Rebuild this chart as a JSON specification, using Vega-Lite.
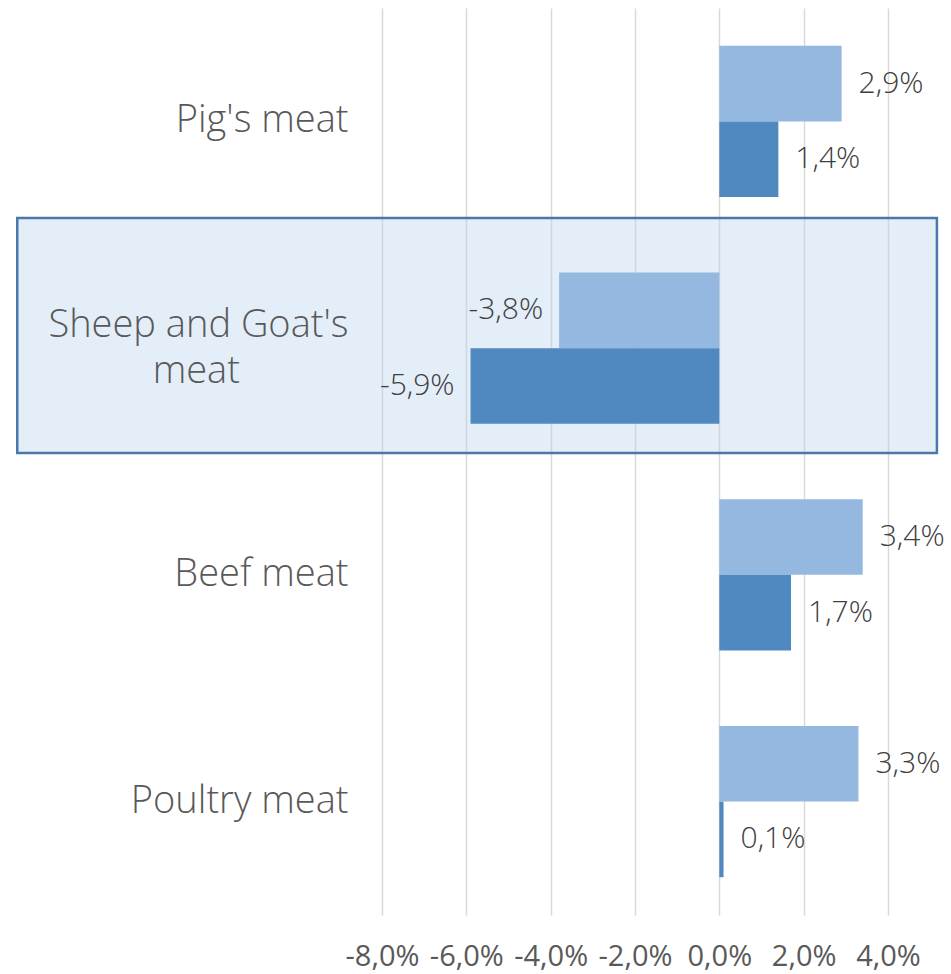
{
  "$schema": "https://vega.github.io/schema/vega-lite/v6.json",
  "width": 506,
  "height": 907,
  "autosize": {"type": "none"},
  "padding": {"left": 382, "top": 8, "right": 63, "bottom": 59},
  "background": "white",
  "config": {
    "view": {"stroke": null},
    "font": "Open Sans",
    "text": {"font": "Open Sans"}
  },
  "datasets": {
    "bars": [
      {"category": "Pig's meat", "series": "Series 1", "value": 2.9, "label": "2,9%"},
      {"category": "Pig's meat", "series": "Series 2", "value": 1.4, "label": "1,4%"},
      {"category": "Sheep and Goat's meat", "series": "Series 1", "value": -3.8, "label": "-3,8%"},
      {"category": "Sheep and Goat's meat", "series": "Series 2", "value": -5.9, "label": "-5,9%"},
      {"category": "Beef meat", "series": "Series 1", "value": 3.4, "label": "3,4%"},
      {"category": "Beef meat", "series": "Series 2", "value": 1.7, "label": "1,7%"},
      {"category": "Poultry meat", "series": "Series 1", "value": 3.3, "label": "3,3%"},
      {"category": "Poultry meat", "series": "Series 2", "value": 0.1, "label": "0,1%"}
    ],
    "box": [
      {"x1": -16.65, "x2": 5.16, "y1": 0.926, "y2": 1.963}
    ]
  },
  "layer": [
    {
      "data": {"name": "box"},
      "mark": {"type": "rect", "fill": "#bcd5ee", "fillOpacity": 0.4, "stroke": "#4a78ab", "strokeWidth": 2.5},
      "encoding": {
        "x": {
          "field": "x1",
          "type": "quantitative",
          "scale": {"domain": [-8, 4], "nice": false, "zero": false},
          "axis": {
            "title": null,
            "values": [-8, -6, -4, -2, 0, 2, 4],
            "labelExpr": "replace(replace(format(datum.value / 100, '.1%'), '.', ','), '\u2212', '-')",
            "domain": false,
            "ticks": false,
            "grid": true,
            "gridColor": "#d9d9d9",
            "gridWidth": 1.5,
            "labelFontSize": 29,
            "labelColor": "#595959",
            "labelPadding": 27,
            "labelOverlap": false,
            "labelBound": false,
            "labelFlush": false
          }
        },
        "x2": {"field": "x2"},
        "y": {"field": "y1", "type": "quantitative", "scale": {"domain": [0, 4], "reverse": true, "nice": false, "zero": false}, "axis": null},
        "y2": {"field": "y2"}
      }
    },
    {
      "data": {"name": "bars"},
      "encoding": {
        "y": {
          "field": "category",
          "type": "nominal",
          "sort": ["Pig's meat", "Sheep and Goat's meat", "Beef meat", "Poultry meat"],
          "scale": {"paddingInner": 0.333, "paddingOuter": 0.1667},
          "axis": {
            "title": null,
            "domain": false,
            "ticks": false,
            "zindex": 1,
            "labelFontSize": 38,
            "labelFontWeight": 300,
            "labelColor": "#595959",
            "labelPadding": 34,
            "labelLimit": 500,
            "labelLineHeight": 46,
            "labelOffset": {"condition": {"test": "datum.label == \"Sheep and Goat's meat\"", "value": -22}, "value": 0},
            "labelExpr": "datum.label == \"Sheep and Goat's meat\" ? [\"Sheep and Goat's\", \"meat\u00a0\u00a0\u00a0\u00a0\u00a0\u00a0\u00a0\u00a0\u00a0\u00a0\u00a0\u200b\"] : datum.label"
          }
        },
        "yOffset": {"field": "series", "type": "nominal", "sort": ["Series 1", "Series 2"], "scale": {"paddingInner": 0, "paddingOuter": 0}}
      },
      "layer": [
        {
          "mark": {"type": "bar"},
          "encoding": {
            "x": {
              "field": "value",
              "type": "quantitative",
              "scale": {"domain": [-8, 4], "nice": false, "zero": false},
              "axis": {
                "title": null,
                "values": [-8, -6, -4, -2, 0, 2, 4],
                "labelExpr": "replace(replace(format(datum.value / 100, '.1%'), '.', ','), '\u2212', '-')",
                "domain": false,
                "ticks": false,
                "grid": true,
                "gridColor": "#d9d9d9",
                "gridWidth": 1.5,
                "labelFontSize": 29,
                "labelColor": "#595959",
                "labelPadding": 27,
                "labelOverlap": false,
                "labelBound": false,
                "labelFlush": false
              }
            },
            "x2": {"datum": 0},
            "color": {
              "field": "series",
              "type": "nominal",
              "scale": {"domain": ["Series 1", "Series 2"], "range": ["#95b8e0", "#4f89bf"]},
              "legend": null
            }
          }
        },
        {
          "transform": [{"filter": "datum.value >= 0"}],
          "mark": {"type": "text", "align": "left", "baseline": "middle", "dx": 17, "fontSize": 30, "fontWeight": 300, "color": "#404040"},
          "encoding": {
            "x": {"field": "value", "type": "quantitative", "scale": {"domain": [-8, 4], "nice": false, "zero": false}},
            "text": {"field": "label"}
          }
        },
        {
          "transform": [{"filter": "datum.value < 0"}],
          "mark": {"type": "text", "align": "right", "baseline": "middle", "dx": -16, "fontSize": 30, "fontWeight": 300, "color": "#404040"},
          "encoding": {
            "x": {"field": "value", "type": "quantitative", "scale": {"domain": [-8, 4], "nice": false, "zero": false}},
            "text": {"field": "label"}
          }
        }
      ]
    }
  ],
  "resolve": {"scale": {"y": "independent"}, "axis": {"y": "independent"}}
}
